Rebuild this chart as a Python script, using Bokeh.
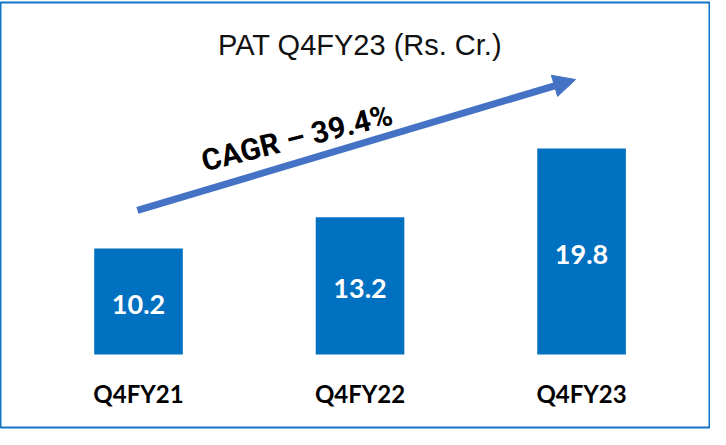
from bokeh.plotting import figure
from bokeh.models import Range1d, Label, Arrow, NormalHead, ColumnDataSource
from bokeh.core.properties import value
from bokeh.embed import file_html
from bokeh.resources import INLINE

# ---- data ----
categories = ["Q4FY21", "Q4FY22", "Q4FY23"]
pat_values = [10.2, 13.2, 19.8]
value_labels = ["10.2", "13.2", "19.8"]
title_text = "PAT Q4FY23 (Rs. Cr.)"
cagr_text = "CAGR \u2013 39.4%"

BAR_COLOR = "#0070C0"
ARROW_COLOR = "#4472C4"
BORDER_COLOR = "#1274C6"

xpos = list(range(len(categories)))
src = ColumnDataSource(dict(
    x=xpos,
    top=pat_values,
    mid=[v / 2 for v in pat_values],
    label=value_labels,
    cat=categories,
))

p = figure(width=710, height=429, output_backend="svg", toolbar_location=None,
           x_range=Range1d(-0.623, 2.582), y_range=Range1d(-7.02, 33.85),
           x_axis_location=None, y_axis_location=None,
           min_border_left=0, min_border_right=0,
           min_border_top=2, min_border_bottom=2)
p.title.visible = False
p.grid.visible = False
p.background_fill_color = "white"
p.border_fill_color = "white"
p.outline_line_color = BORDER_COLOR
p.outline_line_width = 2

p.vbar(x="x", top="top", bottom=0, width=0.4, source=src,
       fill_color=BAR_COLOR, line_color=None)

p.text(x="x", y="mid", text="label", source=src, text_color="white",
       text_font=value("Lato"), text_font_style="bold", text_font_size="27px",
       text_align="center", text_baseline="middle", y_offset=3)

p.text(x="x", y=0, text="cat", source=src, text_color="black",
       text_font=value("Lato"), text_font_style="bold", text_font_size="24px",
       text_align="center", text_baseline="middle", y_offset=39)

p.add_layout(Label(x=1.0, y=29.8, text=title_text, text_font="Liberation Sans",
                   text_font_size="29px", text_color="#111111",
                   text_align="center", text_baseline="middle"))

p.add_layout(Arrow(x_start=-0.005, y_start=13.85, x_end=1.973, y_end=26.44,
                   line_color=ARROW_COLOR, line_width=7,
                   end=NormalHead(size=22, fill_color=ARROW_COLOR,
                                  line_color=ARROW_COLOR, line_width=1)))

p.add_layout(Label(x=0.715, y=20.85, text=cagr_text, angle=14, angle_units="deg",
                   text_font="Roboto", text_font_style="bold", text_font_size="30px",
                   text_color="black", text_align="center", text_baseline="middle"))

with open("out.html", "w") as f:
    f.write(file_html(p, INLINE))
